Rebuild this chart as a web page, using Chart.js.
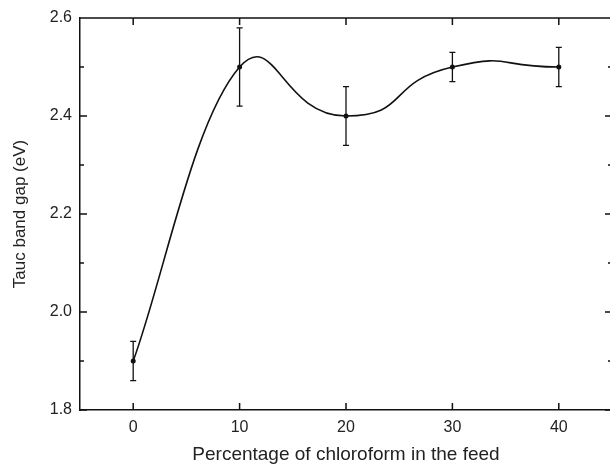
<!DOCTYPE html>
<html>
<head>
<meta charset="utf-8">
<script src="https://cdn.jsdelivr.net/npm/chart.js@4"></script>
<style>
  html, body { margin: 0; padding: 0; overflow: hidden; background: #fff; }
  #wrap { width: 616px; height: 464px; }
</style>
</head>
<body>
<div id="wrap"><canvas id="gap"></canvas></div>
<script>
const chloroform = [0, 10, 20, 30, 40];
const bandGap = [1.9, 2.5, 2.4, 2.5, 2.5];
const bandGapErr = [0.04, 0.08, 0.06, 0.03, 0.04];
const xTicks = [0, 10, 20, 30, 40];
const yTicks = [1.8, 2.0, 2.2, 2.4, 2.6];
const yMinorTicks = [1.9, 2.1, 2.3, 2.5];

Chart.defaults.font.family = "'Liberation Sans', Arial, sans-serif";
Chart.defaults.color = "#222";

const points = chloroform.map((v, i) => ({ x: v, y: bandGap[i] }));

// inward ticks on all four sides + top/right frame lines
const frame = {
  id: "frame",
  afterDraw(chart) {
    const { ctx, chartArea: a, scales: { x, y } } = chart;
    ctx.save();
    ctx.strokeStyle = "#111";
    ctx.lineWidth = 1.5;
    ctx.beginPath();
    ctx.moveTo(a.left, a.top); ctx.lineTo(a.right, a.top);
    ctx.moveTo(a.right, a.top); ctx.lineTo(a.right, a.bottom);
    xTicks.forEach(v => {
      const px = x.getPixelForValue(v);
      ctx.moveTo(px, a.bottom); ctx.lineTo(px, a.bottom - 7);
      ctx.moveTo(px, a.top); ctx.lineTo(px, a.top + 7);
    });
    yTicks.forEach(v => {
      const py = y.getPixelForValue(v);
      ctx.moveTo(a.left, py); ctx.lineTo(a.left + 7, py);
      ctx.moveTo(a.right, py); ctx.lineTo(a.right - 7, py);
    });
    yMinorTicks.forEach(v => {
      const py = y.getPixelForValue(v);
      ctx.moveTo(a.left, py); ctx.lineTo(a.left + 4, py);
      ctx.moveTo(a.right, py); ctx.lineTo(a.right - 4, py);
    });
    ctx.stroke();
    ctx.restore();
  }
};

const errorBars = {
  id: "errorBars",
  afterDatasetsDraw(chart) {
    const { ctx, scales: { x, y } } = chart;
    ctx.save();
    ctx.strokeStyle = "#111";
    ctx.lineWidth = 1.3;
    ctx.beginPath();
    chloroform.forEach((v, i) => {
      const px = x.getPixelForValue(v);
      const top = y.getPixelForValue(bandGap[i] + bandGapErr[i]);
      const bot = y.getPixelForValue(bandGap[i] - bandGapErr[i]);
      ctx.moveTo(px, top); ctx.lineTo(px, bot);
      ctx.moveTo(px - 3, top); ctx.lineTo(px + 3, top);
      ctx.moveTo(px - 3, bot); ctx.lineTo(px + 3, bot);
    });
    ctx.stroke();
    ctx.restore();
  }
};

new Chart(document.getElementById("gap"), {
  type: "line",
  data: {
    datasets: [
      {
        // main smooth curve with markers (first segment drawn by the next dataset)
        data: points,
        borderColor: "#111",
        backgroundColor: "#111",
        borderWidth: 1.6,
        pointRadius: 2.5,
        pointBorderWidth: 0,
        tension: 0.6,
        segment: { borderColor: c => c.p0DataIndex === 0 ? "rgba(0,0,0,0)" : "#111" }
      },
      {
        // gentler first segment, same tangent direction at x = 10
        data: points,
        borderColor: "#111",
        borderWidth: 1.6,
        pointRadius: 0,
        tension: 0.3,
        segment: { borderColor: c => c.p0DataIndex === 0 ? "#111" : "rgba(0,0,0,0)" }
      }
    ]
  },
  options: {
    responsive: true,
    maintainAspectRatio: false,
    animation: false,
    layout: { padding: { top: 18, right: 1, left: 0, bottom: 0 } },
    plugins: { legend: { display: false }, tooltip: { enabled: false } },
    scales: {
      x: {
        type: "linear",
        min: -5,
        max: 45,
        afterBuildTicks: s => { s.ticks = xTicks.map(v => ({ value: v })); },
        afterFit: s => { s.height = 54; },
        grid: { display: false, drawTicks: false },
        border: { display: true, color: "#111", width: 1.5 },
        ticks: { font: { size: 16 }, padding: 8 },
        title: { display: true, text: "Percentage of chloroform in the feed", font: { size: 19 }, padding: { top: 0, bottom: -2 } }
      },
      y: {
        min: 1.8,
        max: 2.6,
        afterBuildTicks: s => { s.ticks = yTicks.map(v => ({ value: v })); },
        afterFit: s => { s.width = 80; },
        grid: { display: false, drawTicks: false },
        border: { display: true, color: "#111", width: 1.5 },
        ticks: { font: { size: 16 }, padding: 8, callback: v => v.toFixed(1) },
        title: { display: true, text: "Tauc band gap (eV)", font: { size: 17 }, padding: { top: 10, bottom: 0 } }
      }
    }
  },
  plugins: [frame, errorBars]
});
</script>
</body>
</html>
